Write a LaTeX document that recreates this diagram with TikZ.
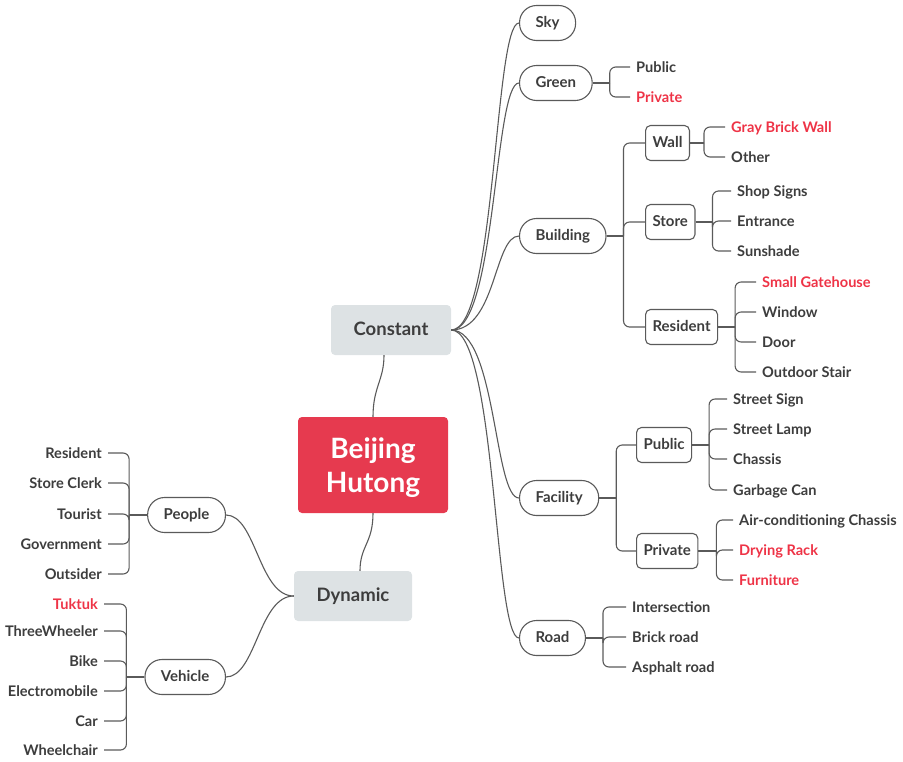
\documentclass[tikz,border=0pt]{standalone}
\usepackage{fontspec}
\setmainfont{Lato}
\usetikzlibrary{positioning}
\definecolor{hutongred}{HTML}{E63A4F}
\definecolor{leafred}{HTML}{EE3346}
\definecolor{boxgray}{HTML}{DDE2E4}
\definecolor{inkgray}{HTML}{3D3D3D}
\definecolor{linegray}{HTML}{5A5A5A}
\tikzset{
  every node/.style={text=inkgray},
  root/.style={fill=hutongred, text=white, rounded corners=4pt,
    minimum width=150pt, minimum height=96pt, align=center,
    text depth=0pt, font=\fontsize{28}{34}\selectfont\bfseries},
  group/.style={fill=boxgray, rounded corners=4pt, minimum width=120pt,
    minimum height=50pt, text height=2.6ex, text depth=.25ex,
    font=\fontsize{18.5}{22}\selectfont\bfseries},
  pill/.style={draw=linegray, line width=1.1pt, rounded corners=17pt,
    minimum height=35pt, inner xsep=16pt, inner ysep=0pt,
    text height=2.2ex, text depth=.25ex,
    font=\fontsize{15}{18}\selectfont\bfseries},
  tag/.style={draw=linegray, line width=1.1pt, rounded corners=5pt,
    minimum height=35pt, inner xsep=7pt, inner ysep=0pt,
    text height=2.2ex, text depth=.25ex,
    font=\fontsize{15}{18}\selectfont\bfseries},
  leaf/.style={inner xsep=6pt, inner ysep=2pt,
    text height=2.3ex, text depth=.25ex,
    font=\fontsize{14.6}{17}\selectfont\bfseries},
  hot/.style={text=leafred},
  link/.style={draw=linegray, line width=1.1pt},
  branch/.style={link, rounded corners=6pt}
}
\begin{document}
\begin{tikzpicture}[x=1pt, y=-1pt]
\useasboundingbox (0,0) rectangle (903,761);

% centre and the two groups
\node[root] (hutong) at (373,465) {Beijing\\Hutong};
\node[group] (constant) at (391,330) {Constant};
\node[group, minimum width=118pt] (dynamic) at (353,596) {Dynamic};

\draw[link] (hutong.north) .. controls +(0,-30) and +(0,25) .. ([xshift=-7pt]constant.south);
\draw[link] (hutong.south) .. controls +(0,30) and +(0,-25) .. ([xshift=7pt]dynamic.north);

% constant side
\node[pill, anchor=west] (sky) at (519,23) {Sky};
\node[pill, anchor=west] (green) at (519,83) {Green};
\node[pill, anchor=west] (building) at (519,236) {Building};
\node[pill, anchor=west] (facility) at (519,498) {Facility};
\node[pill, anchor=west] (road) at (519,638) {Road};

\draw[link] (constant.east) .. controls +(45,0) and +(-25,0) .. (sky.west);
\draw[link] (constant.east) .. controls +(45,0) and +(-25,0) .. (green.west);
\draw[link] (constant.east) .. controls +(45,0) and +(-25,0) .. (building.west);
\draw[link] (constant.east) .. controls +(45,0) and +(-25,0) .. (facility.west);
\draw[link] (constant.east) .. controls +(45,0) and +(-25,0) .. (road.west);

% green
\node[leaf, anchor=west] (green-public) at (630,67) {Public};
\node[leaf, hot, anchor=west] (green-private) at (630,97) {Private};
\draw[link] (green.east) -- ++(17,0) coordinate (green-j);
\draw[branch] (green-j) |- (green-public.west);
\draw[branch] (green-j) |- (green-private.west);

% building
\node[tag, anchor=west] (wall) at (645,143) {Wall};
\node[tag, anchor=west] (store) at (645,222) {Store};
\node[tag, anchor=west] (resident) at (645,327) {Resident};
\draw[link] (building.east) -- ++(17,0) coordinate (building-j);
\draw[branch] (building-j) |- (wall.west);
\draw[branch] (building-j) |- (store.west);
\draw[branch] (building-j) |- (resident.west);

\node[leaf, hot, anchor=west] (brickwall) at (725,127) {Gray Brick Wall};
\node[leaf, anchor=west] (otherwall) at (725,157) {Other};
\draw[link] (wall.east) -- ++(14,0) coordinate (wall-j);
\draw[branch] (wall-j) |- (brickwall.west);
\draw[branch] (wall-j) |- (otherwall.west);

\node[leaf, anchor=west] (signs) at (731,191) {Shop Signs};
\node[leaf, anchor=west] (entrance) at (731,221) {Entrance};
\node[leaf, anchor=west] (sunshade) at (731,251) {Sunshade};
\draw[link] (store.east) -- ++(17,0) coordinate (store-j);
\draw[branch] (store-j) |- (signs.west);
\draw[branch] (store-j) |- (entrance.west);
\draw[branch] (store-j) |- (sunshade.west);

\node[leaf, hot, anchor=west] (gatehouse) at (756,282) {Small Gatehouse};
\node[leaf, anchor=west] (window) at (756,312) {Window};
\node[leaf, anchor=west] (door) at (756,342) {Door};
\node[leaf, anchor=west] (stair) at (756,372) {Outdoor Stair};
\draw[link] (resident.east) -- ++(17,0) coordinate (resident-j);
\draw[branch] (resident-j) |- (gatehouse.west);
\draw[branch] (resident-j) |- (window.west);
\draw[branch] (resident-j) |- (door.west);
\draw[branch] (resident-j) |- (stair.west);

% facility
\node[tag, anchor=west] (fac-public) at (636,445) {Public};
\node[tag, anchor=west] (fac-private) at (636,551) {Private};
\draw[link] (facility.east) -- ++(17,0) coordinate (facility-j);
\draw[branch] (facility-j) |- (fac-public.west);
\draw[branch] (facility-j) |- (fac-private.west);

\node[leaf, anchor=west] (streetsign) at (727,399) {Street Sign};
\node[leaf, anchor=west] (streetlamp) at (727,429) {Street Lamp};
\node[leaf, anchor=west] (chassis) at (727,459) {Chassis};
\node[leaf, anchor=west] (garbage) at (727,490) {Garbage Can};
\draw[link] (fac-public.east) -- ++(17,0) coordinate (fac-public-j);
\draw[branch] (fac-public-j) |- (streetsign.west);
\draw[branch] (fac-public-j) |- (streetlamp.west);
\draw[branch] (fac-public-j) |- (chassis.west);
\draw[branch] (fac-public-j) |- (garbage.west);

\node[leaf, anchor=west] (aircon) at (733,520) {Air-conditioning Chassis};
\node[leaf, hot, anchor=west] (rack) at (733,550) {Drying Rack};
\node[leaf, hot, anchor=west] (furniture) at (733,580) {Furniture};
\draw[link] (fac-private.east) -- ++(18,0) coordinate (fac-private-j);
\draw[branch] (fac-private-j) |- (aircon.west);
\draw[branch] (fac-private-j) |- (rack.west);
\draw[branch] (fac-private-j) |- (furniture.west);

% road
\node[leaf, anchor=west] (crossing) at (626,607) {Intersection};
\node[leaf, anchor=west] (brickroad) at (626,637) {Brick road};
\node[leaf, anchor=west] (asphalt) at (626,667) {Asphalt road};
\draw[link] (road.east) -- ++(17,0) coordinate (road-j);
\draw[branch] (road-j) |- (crossing.west);
\draw[branch] (road-j) |- (brickroad.west);
\draw[branch] (road-j) |- (asphalt.west);

% dynamic side
\node[pill, anchor=east] (people) at (226,515) {People};
\node[pill, anchor=east] (vehicle) at (226,677) {Vehicle};
\draw[link] (dynamic.west) .. controls +(-35,0) and +(30,0) .. (people.east);
\draw[link] (dynamic.west) .. controls +(-35,0) and +(30,0) .. (vehicle.east);

\node[leaf, anchor=east] (dweller) at (108,453) {Resident};
\node[leaf, anchor=east] (clerk) at (108,483) {Store Clerk};
\node[leaf, anchor=east] (tourist) at (108,514) {Tourist};
\node[leaf, anchor=east] (government) at (108,544) {Government};
\node[leaf, anchor=east] (outsider) at (108,574) {Outsider};
\draw[link] (people.west) -- ++(-18,0) coordinate (people-j);
\draw[branch] (people-j) |- (dweller.east);
\draw[branch] (people-j) |- (clerk.east);
\draw[branch] (people-j) |- (tourist.east);
\draw[branch] (people-j) |- (government.east);
\draw[branch] (people-j) |- (outsider.east);

\node[leaf, hot, anchor=east] (tuktuk) at (104,604) {Tuktuk};
\node[leaf, anchor=east] (threewheeler) at (104,631) {ThreeWheeler};
\node[leaf, anchor=east] (bike) at (104,661) {Bike};
\node[leaf, anchor=east] (emobile) at (104,691) {Electromobile};
\node[leaf, anchor=east] (car) at (104,721) {Car};
\node[leaf, anchor=east] (wheelchair) at (104,750) {Wheelchair};
\draw[link] (vehicle.west) -- ++(-18,0) coordinate (vehicle-j);
\draw[branch] (vehicle-j) |- (tuktuk.east);
\draw[branch] (vehicle-j) |- (threewheeler.east);
\draw[branch] (vehicle-j) |- (bike.east);
\draw[branch] (vehicle-j) |- (emobile.east);
\draw[branch] (vehicle-j) |- (car.east);
\draw[branch] (vehicle-j) |- (wheelchair.east);
\end{tikzpicture}
\end{document}
